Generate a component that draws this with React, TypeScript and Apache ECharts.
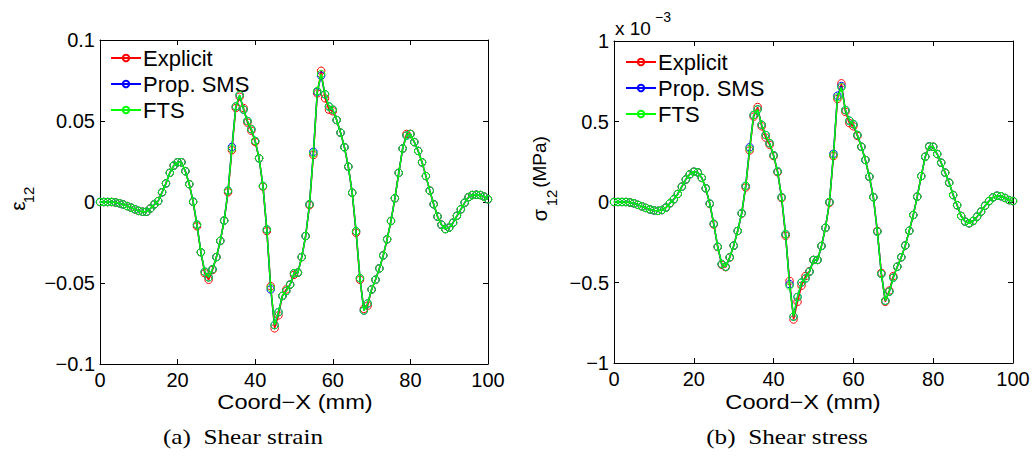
import React, { useEffect, useRef } from "react";
import * as echarts from "echarts";

const coordX = [
  0, 1, 2, 3, 4, 5, 6, 7, 8, 9, 10, 11, 12, 13, 14, 15, 16, 17, 18, 19, 20,
  21, 22, 23, 24, 25, 26, 27, 28, 29, 30, 31, 32, 33, 34, 35, 36, 37, 38, 39, 40,
  41, 42, 43, 44, 45, 46, 47, 48, 49, 50, 51, 52, 53, 54, 55, 56, 57, 58, 59, 60,
  61, 62, 63, 64, 65, 66, 67, 68, 69, 70, 71, 72, 73, 74, 75, 76, 77, 78, 79, 80,
  81, 82, 83, 84, 85, 86, 87, 88, 89, 90, 91, 92, 93, 94, 95, 96, 97, 98, 99, 100,
];

// Shear strain (epsilon_12)
const strainExplicit = [
  0, 0, 0, 0, -0.0003, -0.0008, -0.0015, -0.0025, -0.0035, -0.0045,
  -0.0055, -0.006, -0.006, -0.004, -0.0015, 0.0006, 0.006, 0.0115, 0.018, 0.0225,
  0.0245, 0.0245, 0.019, 0.011, 0.0, -0.015, -0.031, -0.044, -0.048, -0.042,
  -0.034, -0.024, -0.0115, 0.006, 0.032, 0.058, 0.065, 0.058, 0.049, 0.044,
  0.037, 0.027, 0.0095, -0.018, -0.052, -0.078, -0.07, -0.058, -0.054, -0.051,
  -0.045, -0.0436, -0.034, -0.021, -0.002, 0.029, 0.067, 0.081, 0.064, 0.057,
  0.056, 0.0506, 0.0428, 0.0338, 0.0218, 0.0057, -0.019, -0.048, -0.066, -0.064,
  -0.054, -0.048, -0.041, -0.033, -0.023, -0.0117, 0.0023, 0.018, 0.033, 0.042,
  0.042, 0.037, 0.0315, 0.0245, 0.016, 0.007, -0.0014, -0.009, -0.014, -0.0167,
  -0.0158, -0.0128, -0.0085, -0.0045, -0.0004, 0.003, 0.0043, 0.0045, 0.0043, 0.0033,
  0.0017,
];
const strainPropSMS = [
  0, 0, 0, 0, -0.0003, -0.0008, -0.0015, -0.0025, -0.0035, -0.0045,
  -0.0055, -0.006, -0.006, -0.004, -0.0015, 0.0006, 0.006, 0.0115, 0.018, 0.0225,
  0.0245, 0.0245, 0.019, 0.011, 0.0002, -0.014, -0.031, -0.043, -0.0465, -0.0415,
  -0.034, -0.024, -0.0115, 0.007, 0.034, 0.059, 0.066, 0.057, 0.05, 0.045,
  0.0377, 0.027, 0.0099, -0.017, -0.054, -0.076, -0.068, -0.058, -0.055, -0.051,
  -0.044, -0.0436, -0.034, -0.021, -0.0014, 0.031, 0.068, 0.078, 0.0665, 0.059,
  0.057, 0.0506, 0.0428, 0.0338, 0.0218, 0.0057, -0.018, -0.047, -0.067, -0.0626,
  -0.054, -0.048, -0.041, -0.033, -0.023, -0.0117, 0.0023, 0.018, 0.033, 0.041,
  0.042, 0.037, 0.0315, 0.0245, 0.016, 0.007, -0.0014, -0.009, -0.014, -0.0167,
  -0.0158, -0.0128, -0.0085, -0.0045, -0.0004, 0.003, 0.0043, 0.0045, 0.0043, 0.0033,
  0.0017,
];
const strainFTS = [
  0, 0, 0, 0, -0.0003, -0.0008, -0.0015, -0.0025, -0.0035, -0.0045,
  -0.0055, -0.006, -0.006, -0.004, -0.0015, 0.0006, 0.006, 0.0115, 0.018, 0.0225,
  0.0245, 0.0245, 0.019, 0.011, 0.0002, -0.014, -0.031, -0.043, -0.0465, -0.0415,
  -0.034, -0.024, -0.0115, 0.007, 0.033, 0.059, 0.066, 0.057, 0.05, 0.045,
  0.0377, 0.027, 0.0099, -0.017, -0.053, -0.076, -0.068, -0.058, -0.055, -0.051,
  -0.044, -0.0436, -0.034, -0.021, -0.0014, 0.03, 0.0685, 0.079, 0.0665, 0.059,
  0.057, 0.0506, 0.0428, 0.0338, 0.0218, 0.0057, -0.018, -0.047, -0.067, -0.0626,
  -0.054, -0.048, -0.041, -0.033, -0.023, -0.0117, 0.0023, 0.018, 0.033, 0.041,
  0.042, 0.037, 0.0315, 0.0245, 0.016, 0.007, -0.0014, -0.009, -0.014, -0.0167,
  -0.0158, -0.0128, -0.0085, -0.0045, -0.0004, 0.003, 0.0043, 0.0045, 0.0043, 0.0033,
  0.0017,
];

// Shear stress (sigma_12), in units of 1e-3 MPa
const stressExplicit = [
  0, 0, 0, 0, -0.003, -0.008, -0.018, -0.027, -0.037, -0.046,
  -0.052, -0.055, -0.05, -0.035, -0.008, 0.017, 0.05, 0.095, 0.14, 0.172,
  0.188, 0.184, 0.15, 0.085, -0.012, -0.14, -0.28, -0.39, -0.405, -0.345,
  -0.271, -0.18, -0.072, 0.09, 0.32, 0.53, 0.59, 0.47, 0.4, 0.355,
  0.285, 0.185, 0.025, -0.21, -0.49, -0.73, -0.62, -0.52, -0.46, -0.43,
  -0.36, -0.36, -0.273, -0.16, -0.005, 0.285, 0.64, 0.737, 0.56, 0.49,
  0.47, 0.41, 0.343, 0.261, 0.157, 0.03, -0.18, -0.44, -0.62, -0.55,
  -0.46, -0.402, -0.343, -0.27, -0.179, -0.081, 0.033, 0.161, 0.281, 0.345,
  0.343, 0.298, 0.244, 0.182, 0.12, 0.043, -0.02, -0.087, -0.122, -0.132,
  -0.118, -0.091, -0.06, -0.023, 0.006, 0.029, 0.039, 0.036, 0.025, 0.012,
  0.006,
];
const stressPropSMS = [
  0, 0, 0, 0, -0.003, -0.008, -0.018, -0.027, -0.037, -0.046,
  -0.052, -0.055, -0.05, -0.035, -0.008, 0.017, 0.05, 0.095, 0.14, 0.172,
  0.188, 0.184, 0.15, 0.085, -0.01, -0.135, -0.278, -0.385, -0.402, -0.343,
  -0.271, -0.18, -0.07, 0.1, 0.34, 0.54, 0.575, 0.48, 0.416, 0.365,
  0.29, 0.19, 0.03, -0.2, -0.51, -0.712, -0.59, -0.5, -0.475, -0.433,
  -0.36, -0.36, -0.273, -0.16, 0.0, 0.3, 0.66, 0.72, 0.571, 0.505,
  0.483, 0.416, 0.343, 0.261, 0.157, 0.03, -0.184, -0.447, -0.613, -0.557,
  -0.47, -0.402, -0.343, -0.27, -0.179, -0.081, 0.033, 0.161, 0.281, 0.345,
  0.343, 0.298, 0.244, 0.182, 0.12, 0.043, -0.02, -0.087, -0.122, -0.132,
  -0.118, -0.091, -0.06, -0.023, 0.006, 0.029, 0.039, 0.036, 0.025, 0.012,
  0.006,
];
const stressFTS = [
  0, 0, 0, 0, -0.003, -0.008, -0.018, -0.027, -0.037, -0.046,
  -0.052, -0.055, -0.05, -0.035, -0.008, 0.017, 0.05, 0.095, 0.14, 0.172,
  0.188, 0.184, 0.15, 0.085, -0.01, -0.135, -0.278, -0.385, -0.402, -0.343,
  -0.271, -0.18, -0.07, 0.1, 0.33, 0.54, 0.575, 0.48, 0.416, 0.365,
  0.29, 0.19, 0.03, -0.2, -0.52, -0.712, -0.59, -0.5, -0.475, -0.433,
  -0.36, -0.36, -0.273, -0.16, 0.0, 0.292, 0.65, 0.712, 0.571, 0.505,
  0.483, 0.416, 0.343, 0.261, 0.157, 0.03, -0.184, -0.447, -0.613, -0.557,
  -0.47, -0.402, -0.343, -0.27, -0.179, -0.081, 0.033, 0.161, 0.281, 0.345,
  0.343, 0.298, 0.244, 0.182, 0.12, 0.043, -0.02, -0.087, -0.122, -0.132,
  -0.118, -0.091, -0.06, -0.023, 0.006, 0.029, 0.039, 0.036, 0.025, 0.012,
  0.006,
];

const seriesNames = ["Explicit", "Prop. SMS", "FTS"];
const seriesColors = ["#ff0000", "#0000ff", "#00ff00"];
const xTicks = { min: 0, max: 100, interval: 20 };
const strainTicks = { min: -0.1, max: 0.1, interval: 0.05 };
const stressTicks = { min: -1, max: 1, interval: 0.5 };

const SANS = "'Liberation Sans', Arial, Helvetica, sans-serif";
const SERIF = "'Liberation Serif', 'Times New Roman', serif";

const fmt = (v: number) => {
  const r = Math.round(v * 10000) / 10000;
  return String(r).replace("-", "\u2212");
};

function axisPair(grid: number, kind: "x" | "y", ticks: any) {
  const common = {
    gridIndex: grid,
    type: "value",
    min: ticks.min,
    max: ticks.max,
    interval: ticks.interval,
    splitLine: { show: false },
    axisLine: { show: true, onZero: false, lineStyle: { color: "#000", width: 1 } },
    axisTick: { show: true, inside: true, length: 5, lineStyle: { color: "#000", width: 1 } },
  };
  const main = {
    ...common,
    position: kind === "x" ? "bottom" : "left",
    axisLabel: {
      show: true,
      color: "#000",
      fontFamily: SANS,
      fontSize: 20,
      margin: kind === "x" ? 6 : 5,
      formatter: (v: number) => fmt(v),
    },
  };
  const opp = {
    ...common,
    position: kind === "x" ? "top" : "right",
    axisLabel: { show: false },
  };
  return [main, opp];
}

function makeSeries(values: number[][], xi: number, yi: number) {
  return values.map((vals, k) => ({
    name: seriesNames[k],
    type: "line",
    xAxisIndex: xi,
    yAxisIndex: yi,
    data: coordX.map((x, i) => [x, vals[i]]),
    symbol: "circle",
    symbolSize: 7.5,
    showSymbol: true,
    color: seriesColors[k],
    lineStyle: { color: seriesColors[k], width: 1.5 },
    itemStyle: { color: "rgba(0,0,0,0)", borderColor: seriesColors[k], borderWidth: 1 },
    emphasis: { disabled: true },
    z: 2 + k,
  }));
}

function legendAt(left: number, top: number) {
  return {
    orient: "vertical",
    left,
    top,
    padding: 0,
    itemWidth: 30,
    itemHeight: 8,
    itemGap: 4,
    data: seriesNames,
    textStyle: { color: "#000", fontFamily: SANS, fontSize: 22, padding: [0, 0, 0, -3] },
    selectedMode: false,
  };
}

const txt = (x: number, y: number, text: string, font: string, extra: any = {}) => ({
  type: "text",
  x,
  y,
  ...extra,
  style: { text, font, fill: "#000", align: "center", verticalAlign: "middle" },
});

export default function App() {
  const ref = useRef<HTMLDivElement>(null);
  useEffect(() => {
    if (!ref.current) return;
    const chart = echarts.init(ref.current, undefined, { renderer: "svg" });
    const [x0, x1] = axisPair(0, "x", xTicks);
    const [y0, y1] = axisPair(0, "y", strainTicks);
    const [x2, x3] = axisPair(1, "x", xTicks);
    const [y2, y3] = axisPair(1, "y", stressTicks);
    const rot = Math.PI / 2;
    const option: any = {
      animation: false,
      backgroundColor: "#fff",
      grid: [
        { left: 100, top: 40, width: 388, height: 324 },
        { left: 614, top: 41, width: 399, height: 322 },
      ],
      xAxis: [x0, x1, x2, x3],
      yAxis: [y0, y1, y2, y3],
      legend: [legendAt(110, 47), legendAt(625, 51)],
      series: [
        ...makeSeries([strainExplicit, strainPropSMS, strainFTS], 0, 0),
        ...makeSeries([stressExplicit, stressPropSMS, stressFTS], 2, 2),
      ],
      graphic: [
        txt(295, 402, "Coord\u2212X (mm)", `20px ${SANS}`, { scaleX: 1.18 }),
        txt(803, 402, "Coord\u2212X (mm)", `20px ${SANS}`, { scaleX: 1.18 }),
        txt(17, 206, "\u03b5", `21px ${SANS}`, { rotation: rot }),
        txt(28, 195, "12", `15px ${SANS}`, { rotation: rot }),
        txt(540, 215, "\u03c3", `20px ${SANS}`, { rotation: rot }),
        txt(551, 198, "12", `15px ${SANS}`, { rotation: rot }),
        txt(539, 162, "(MPa)", `19px ${SANS}`, { rotation: rot }),
        { type: "text", x: 615, y: 28, style: { text: "x 10", font: `19px ${SANS}`, fill: "#000", align: "left", verticalAlign: "middle" } },
        { type: "text", x: 655, y: 17, style: { text: "\u22123", font: `14px ${SANS}`, fill: "#000", align: "left", verticalAlign: "middle" } },
        txt(243, 437, "(a)  Shear strain", `21px ${SERIF}`, { scaleX: 1.2 }),
        txt(787, 437, "(b)  Shear stress", `21px ${SERIF}`, { scaleX: 1.2 }),
      ],
    };
    chart.setOption(option);
    return () => chart.dispose();
  }, []);
  return (
    <div
      ref={ref}
      style={{ position: "fixed", left: 0, top: 0, width: 1036, height: 461, background: "#fff" }}
    />
  );
}
